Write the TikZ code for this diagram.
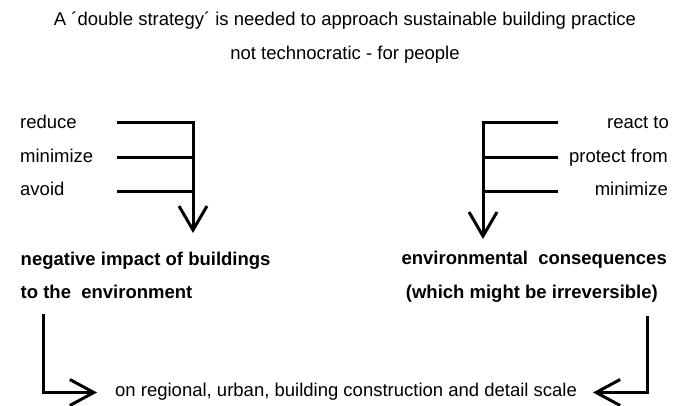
\documentclass[tikz,border=0pt]{standalone}
\usepackage{fontspec}
\setmainfont{Liberation Sans}
\usetikzlibrary{arrows.meta}
\begin{document}
\begin{tikzpicture}[x=1pt,y=-1pt,
  txt/.style={inner sep=0pt,font=\fontsize{18.5}{22}\selectfont},
  btxt/.style={inner sep=0pt,font=\fontsize{18.5}{22}\selectfont\bfseries},
  ln/.style={line width=3pt,line join=miter},
  arr/.style={ln,-{Straight Barb[length=24pt,width=28pt,line width=3pt]}},
  arrs/.style={ln,-{Straight Barb[length=24pt,width=26pt,line width=3pt]}}
]
\useasboundingbox (0,0) rectangle (682,406);
% title
\node[txt,anchor=base] (t1) at (345,26) {A ´double strategy´ is needed to approach sustainable building practice};
\node[txt,anchor=base] (t2) at (345,60) {not technocratic - for people};
% left group
\node[txt,anchor=base west] (r1) at (20,128.5) {reduce};
\node[txt,anchor=base west] (r2) at (20,162.7) {minimize};
\node[txt,anchor=base west] (r3) at (20,196) {avoid};
\coordinate (a1) at (117,122.7);
\coordinate (a2) at (117,157.7);
\coordinate (a3) at (117,191.7);
\coordinate (k1) at (193,122.7);
\coordinate (k2) at (193,157.7);
\coordinate (k3) at (193,191.7);
\coordinate (tl) at (193,233);
\draw[arr] (a1) -- (k1) -- (tl);
\draw[ln] (a2) -- (k2);
\draw[ln] (a3) -- (k3);
% right group
\node[txt,anchor=base east] (s1) at (669,128.5) {react to};
\node[txt,anchor=base east] (s2) at (668,162.7) {protect from};
\node[txt,anchor=base east] (s3) at (668,196) {minimize};
\coordinate (b1) at (558,122.7);
\coordinate (b2) at (558,157.7);
\coordinate (b3) at (558,191.7);
\coordinate (m1) at (483,122.7);
\coordinate (m2) at (483,157.7);
\coordinate (m3) at (483,191.7);
\coordinate (tr) at (483,239);
\draw[arr] (b1) -- (m1) -- (tr);
\draw[ln] (b2) -- (m2);
\draw[ln] (b3) -- (m3);
% bold texts
\node[btxt,anchor=base west] (n1) at (20.5,265) {negative impact of buildings};
\node[btxt,anchor=base west] (n2) at (20.5,298.3) {to the\ \ environment};
\node[btxt,anchor=base east] (e1) at (667,264.5) {environmental\ \ consequences};
\node[btxt,anchor=base east] (e2) at (658,298) {(which might be irreversible)};
% bottom
\node[txt,anchor=base west] (bt) at (115,396.7) {on regional, urban, building construction and detail scale};
\coordinate (c1) at (43.3,314);
\coordinate (c2) at (43.3,392.5);
\coordinate (cl) at (97,392.5);
\coordinate (d1) at (647,316);
\coordinate (d2) at (647,392.5);
\coordinate (dl) at (593,392.5);
\draw[arrs] (c1) -- (c2) -- (cl);
\draw[arrs] (d1) -- (d2) -- (dl);
\end{tikzpicture}
\end{document}
